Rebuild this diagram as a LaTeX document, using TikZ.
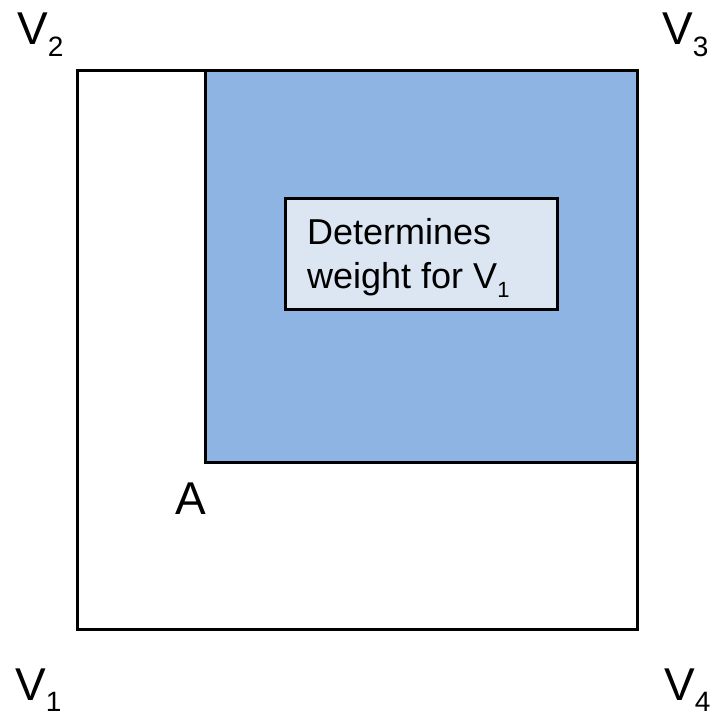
\documentclass[tikz,border=0pt]{standalone}
\usepackage{fontspec}
\setmainfont{Liberation Sans}
\definecolor{blueA}{RGB}{142,180,227}
\definecolor{blueB}{RGB}{220,230,242}
\newcommand{\vlab}[2]{V\raisebox{-0.25em}{\fontsize{28}{28}\selectfont #2}}
\newcommand{\vsmall}[1]{V\raisebox{-0.26em}{\fontsize{22}{22}\selectfont #1}}
\begin{document}
\begin{tikzpicture}[x=1pt,y=-1pt,
  frame/.style={draw=black,line width=3pt},
  big/.style={font=\fontsize{46}{46}\selectfont,inner sep=0pt,anchor=base west},
  boxtext/.style={font=\fontsize{36}{36}\selectfont,inner sep=0pt,anchor=base west}]
\useasboundingbox (0,0) rectangle (711,717);
\fill[white] (0,0) rectangle (711,717);
\draw[frame] (77,70) rectangle (637,629);
\draw[frame,fill=blueA] (205,70) rectangle (637,462);
\node[frame,fill=blueB,minimum width=272pt,minimum height=111pt,inner sep=0pt] (box) at (421,253.5) {};
\node[boxtext] (t1) at (307,244) {Determines};
\node[boxtext] (t2) at (307,288) {weight for \vsmall{1}};
\node[big] (v2) at (17,45) {\vlab{V}{2}};
\node[big] (v3) at (662,45) {\vlab{V}{3}};
\node[big] (v1) at (15,700) {\vlab{V}{1}};
\node[big] (v4) at (664,700) {\vlab{V}{4}};
\node[big] (a) at (175,514) {A};
\end{tikzpicture}
\end{document}
